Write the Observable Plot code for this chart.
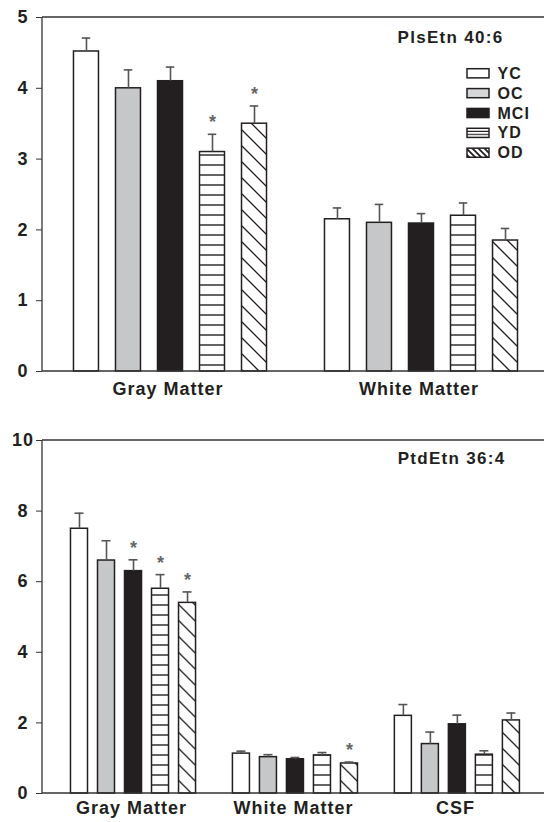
<!DOCTYPE html>
<html>
<head>
<meta charset="utf-8">
<script src="https://cdn.jsdelivr.net/npm/d3@7"></script>
<script src="https://cdn.jsdelivr.net/npm/@observablehq/plot@0.6"></script>
<style>
  body { margin: 0; background: #fff; }
  #wrap { position: relative; width: 544px; height: 822px; background: #fff; overflow: hidden; }
  #wrap > svg.plotsvg { display: block; }
  #legend { position: absolute; left: 466px; top: 58px; }
</style>
</head>
<body>
<div id="wrap">
  <svg width="0" height="0" style="position:absolute;left:0;top:0">
    <defs>
      <pattern id="ydPat" patternUnits="userSpaceOnUse" width="10" height="10">
        <rect width="10" height="10" fill="#fff"/>
        <line x1="0" x2="10" y1="5" y2="5" stroke="#231f20" stroke-width="1.4"/>
      </pattern>
      <pattern id="odPat" patternUnits="userSpaceOnUse" width="16" height="16">
        <rect width="16" height="16" fill="#fff"/>
        <path d="M0,0L16,16M-4,12L4,20M12,-4L20,4" stroke="#231f20" stroke-width="1.3" fill="none"/>
      </pattern>
      <pattern id="ydLeg" patternUnits="objectBoundingBox" width="1" height="1">
        <rect width="40" height="20" fill="#fff"/>
        <line x1="0" x2="40" y1="3" y2="3" stroke="#231f20" stroke-width="1.2"/>
        <line x1="0" x2="40" y1="6" y2="6" stroke="#231f20" stroke-width="1.2"/>
      </pattern>
      <pattern id="odLeg" patternUnits="userSpaceOnUse" width="6" height="6">
        <rect width="6" height="6" fill="#fff"/>
        <path d="M0,0L6,6M-2,4L2,8M4,-2L8,2" stroke="#231f20" stroke-width="1.8" fill="none"/>
      </pattern>
    </defs>
  </svg>
</div>
<script>
// ---- data ----
const groups = ["YC", "OC", "MCI", "YD", "OD"];
const groupFills = ["#ffffff", "#c6c7c9", "#231f20", "url(#ydPat)", "url(#odPat)"];
const legendFills = ["#ffffff", "#d6d7d9", "#231f20", "url(#ydLeg)", "url(#odLeg)"];

const plsTitle = "PlsEtn 40:6";
const plsTissues = ["Gray Matter", "White Matter"];
const plsGray = [4.52, 4.00, 4.10, 3.10, 3.50];
const plsGrayErr = [0.19, 0.26, 0.20, 0.25, 0.25];
const plsGraySig = [false, false, false, true, true];
const plsWhite = [2.15, 2.10, 2.09, 2.20, 1.85];
const plsWhiteErr = [0.16, 0.26, 0.14, 0.18, 0.17];
const plsWhiteSig = [false, false, false, false, false];
const plsTicks = [0, 1, 2, 3, 4, 5];

const ptdTitle = "PtdEtn 36:4";
const ptdTissues = ["Gray Matter", "White Matter", "CSF"];
const ptdGray = [7.50, 6.60, 6.30, 5.80, 5.40];
const ptdGrayErr = [0.44, 0.56, 0.32, 0.40, 0.31];
const ptdGraySig = [false, false, true, true, true];
const ptdWhite = [1.13, 1.03, 0.97, 1.08, 0.85];
const ptdWhiteErr = [0.07, 0.07, 0.05, 0.08, 0.04];
const ptdWhiteSig = [false, false, false, false, true];
const ptdCSF = [2.20, 1.40, 1.96, 1.10, 2.07];
const ptdCSFErr = [0.32, 0.34, 0.26, 0.11, 0.21];
const ptdCSFSig = [false, false, false, false, false];
const ptdTicks = [0, 2, 4, 6, 8, 10];

function rows(tissues, means, errs, sigs) {
  const out = [];
  tissues.forEach((t, i) => groups.forEach((g, j) => out.push({
    tissue: t, group: g, value: means[i][j], err: errs[i][j], sig: sigs[i][j]
  })));
  return out;
}

const plsData = rows(plsTissues, [plsGray, plsWhite], [plsGrayErr, plsWhiteErr], [plsGraySig, plsWhiteSig]);
const ptdData = rows(ptdTissues, [ptdGray, ptdWhite, ptdCSF], [ptdGrayErr, ptdWhiteErr, ptdCSFErr], [ptdGraySig, ptdWhiteSig, ptdCSFSig]);

const FONT = "font-family: 'Liberation Sans', Arial, Helvetica, sans-serif; font-weight: bold; color: #231f20; background: #fff; overflow: visible;";

function chart(o) {
  const top = d => d.value + d.err;
  const svg = Plot.plot({
    width: 544, height: o.height,
    marginTop: o.mt, marginBottom: o.mb, marginLeft: 42, marginRight: 0,
    style: FONT,
    fx: {domain: o.tissues, paddingInner: o.fxPad, paddingOuter: o.fxPad, round: false, label: null},
    x: {domain: groups, paddingInner: o.xPi, paddingOuter: o.xPo, align: o.xAlign, round: false, axis: null},
    y: {domain: o.domain, label: null},
    color: {type: "ordinal", domain: groups, range: groupFills},
    marks: [
      Plot.axisY({ticks: o.ticks, tickFormat: "d", tickSize: 6, tickPadding: 13.5, textAnchor: "middle", fontSize: 18, label: null, stroke: "#333", dx: o.axisDx}),
      Plot.axisFx({anchor: "bottom", tickSize: 0, tickPadding: o.fxPadT, fontSize: 18, label: null}),
      Plot.barY(o.data, {fx: "tissue", x: "group", y: "value", fill: "group", stroke: "#231f20", strokeWidth: 1.5}),
      Plot.ruleX(o.data, {fx: "tissue", x: "group", y1: "value", y2: top, stroke: "#555", strokeWidth: 1.6}),
      Plot.tickY(o.data, {fx: "tissue", x: "group", y: top, stroke: "#555", strokeWidth: 1.6, insetLeft: o.capInset, insetRight: o.capInset}),
      Plot.text(o.data.filter(d => d.sig), {fx: "tissue", x: "group", y: top, text: () => "*", dy: -6, lineAnchor: "bottom", fill: "#666", fontSize: 18}),
      Plot.text([o.title], {fx: [o.tissues[o.tissues.length - 1]], frameAnchor: "top-right", textAnchor: "end", lineAnchor: "top", dx: o.tdx, dy: o.tdy, fontSize: 17})
    ]
  });
  svg.classList.add("plotsvg");
  const y = svg.scale("y");
  const yTop = y.apply(o.domain[1]), yBase = y.apply(0);
  const g = d3.select(svg).append("g").attr("stroke", "#333").attr("stroke-width", 1.3);
  g.append("line").attr("x1", 42).attr("x2", 544).attr("y1", yTop).attr("y2", yTop);
  g.append("line").attr("x1", 42).attr("x2", 544).attr("y1", yBase).attr("y2", yBase);
  g.append("line").attr("x1", 42).attr("x2", 42).attr("y1", yTop).attr("y2", yBase);
  d3.select(svg).selectAll('g[aria-label="fx-axis tick label"] text').style("letter-spacing", "1px");
  d3.select(svg).selectAll('g[aria-label="y-axis tick label"] text').style("letter-spacing", "1px");
  d3.select(svg).selectAll('g[aria-label="text"] text').filter(function() { return this.textContent !== "*"; }).style("letter-spacing", "1.3px");
  return svg;
}

const wrap = document.getElementById("wrap");
wrap.appendChild(chart({
  height: 410, mt: 17, mb: 39, tissues: plsTissues, data: plsData, domain: [0, 5], ticks: plsTicks,
  fxPad: 0, xPi: 0.405, xPo: 0.69, xAlign: 0.543, capInset: 8.25, fxPadT: 11, axisDx: 0,
  title: plsTitle, tdx: -41, tdy: 13
}));
// bottom panel: facet bands are inset from the frame by the outer padding (0.1 step)
const ptdFxStep = 502 / (3 - 0.1 + 2 * 0.1);
wrap.appendChild(chart({
  height: 412, mt: 30, mb: 29, tissues: ptdTissues, data: ptdData, domain: [0, 10], ticks: ptdTicks,
  fxPad: 0.1, xPi: 0.37, xPo: 0.383, xAlign: 0.594, capInset: 4, fxPadT: 8, axisDx: -0.1 * ptdFxStep,
  title: ptdTitle, tdx: -22.8, tdy: 11.7
}));

// legend (mini plot)
const legend = Plot.plot({
  width: 80, height: 110, marginTop: 0, marginBottom: 0, marginLeft: 1, marginRight: 57,
  style: FONT + "background: transparent;",
  x: {domain: [0, 1], axis: null},
  y: {domain: groups, paddingInner: 0.54, paddingOuter: 0.54, round: false, axis: null},
  color: {type: "ordinal", domain: groups, range: legendFills},
  marks: [
    Plot.barX(groups, {x1: 0, x2: 1, y: d => d, fill: d => d, stroke: "#231f20", strokeWidth: 1.5}),
    Plot.text(groups, {x: 1, y: d => d, text: d => d, dx: 8, textAnchor: "start", lineAnchor: "middle", fontSize: 16})
  ]
});
legend.id = "legend";
d3.select(legend).selectAll('g[aria-label="text"] text').style("letter-spacing", "1px");
wrap.appendChild(legend);
</script>
</body>
</html>
